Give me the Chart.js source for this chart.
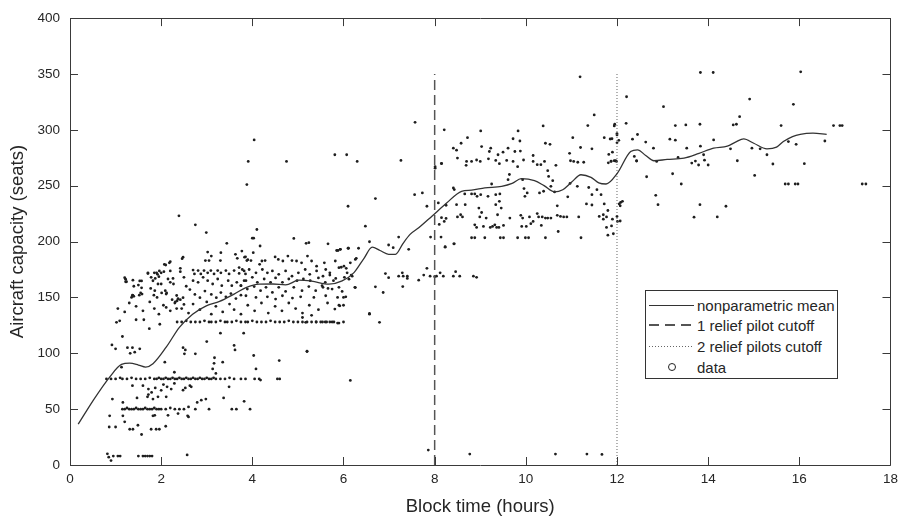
<!DOCTYPE html>
<html>
<head>
<meta charset="utf-8">
<script src="https://cdn.jsdelivr.net/npm/chart.js@4.4.1/dist/chart.umd.min.js"></script>
<style>
  html, body { margin: 0; padding: 0; background: #fff; }
  #wrap { position: relative; width: 904px; height: 519px; }
  #legend {
    position: absolute; left: 645px; top: 290px; width: 193px; height: 89px;
    box-sizing: border-box; border: 1px solid #333; background: #fff;
    font: 15px "Liberation Sans", Arial, sans-serif; color: #262626;
  }
  #legend .row { position: absolute; left: 0; height: 20px; display: flex; align-items: center; white-space: nowrap; }
  #legend .sample { width: 45px; margin: 0 3px 0 3px; }
  #legend .circle { width: 45px; margin: 0 3px 0 3px; text-align: center; line-height: 0; }
  #legend .circle span { display: inline-block; width: 6px; height: 6px; border: 1px solid #222; border-radius: 50%; }
</style>
</head>
<body>
<div id="wrap">
  <canvas id="chart" width="904" height="519"></canvas>
  <div id="legend">
    <div class="row" style="top:4px"><div class="sample" style="height:1px;background:#333"></div>nonparametric mean</div>
    <div class="row" style="top:24px"><div class="sample" style="height:1.5px;background:repeating-linear-gradient(to right,#555 0 10px,transparent 10px 16px)"></div>1 relief pilot cutoff</div>
    <div class="row" style="top:45px"><div class="sample" style="height:1px;background:repeating-linear-gradient(to right,#666 0 1px,transparent 1px 3px)"></div>2 relief pilots cutoff</div>
    <div class="row" style="top:66px"><div class="circle"><span></span></div>data</div>
  </div>
</div>
<script>
// x ticks (hours) and y ticks (seats)
const xTicks = [0, 2, 4, 6, 8, 10, 12, 14, 16, 18];
const yTicks = [0, 50, 100, 150, 200, 250, 300, 350, 400];

// nonparametric mean curve
const meanX = [0.18, 0.51, 0.87, 1.13, 1.31, 1.5, 1.66, 1.82, 2.11, 2.4, 2.69, 2.99, 3.28, 3.6, 3.86, 4.15, 4.45, 4.73, 5.02, 5.3, 5.68, 5.97, 6.23, 6.45, 6.63, 6.8, 6.99, 7.14, 7.3, 7.46, 7.65, 7.94, 8.25, 8.59, 8.81, 9.1, 9.47, 9.7, 9.9, 10.19, 10.4, 10.63, 10.81, 11.0, 11.21, 11.43, 11.6, 11.76, 12.01, 12.3, 12.45, 12.63, 12.81, 13.1, 13.47, 13.8, 14.12, 14.42, 14.6, 14.78, 15.0, 15.29, 15.5, 15.65, 15.85, 16.02, 16.3, 16.6];
const meanY = [36.5, 57.9, 78.7, 90, 91.1, 89.5, 87.6, 90.6, 105.4, 123.2, 135, 142.5, 146.4, 153, 158.8, 161.9, 162, 161.2, 165.4, 164.5, 161.9, 164.8, 172.2, 185, 195, 192, 188.6, 188.6, 198, 206.4, 212.3, 222.7, 234, 245, 246, 248, 249.4, 252, 256.3, 254.5, 250, 244.4, 246.4, 253, 259.8, 257.5, 252.5, 251.5, 261.3, 280.6, 282.1, 277, 272.3, 273.5, 274.7, 279, 283.6, 285.4, 289, 291.9, 288, 283, 284.5, 289.5, 294, 296, 297, 296];

// relief pilot cutoffs (hours)
const cutoff1 = 8;
const cutoff2 = 12;
const cutoffTop = 350;

// observed flights [block time, seats]
const rowLow = [[0.82,10],[0.85,7],[0.9,4],[0.95,8],[1.05,8],[1.1,8],[1.5,8],[1.6,8],[1.65,8],[1.7,8],[1.75,8],[1.8,8],[2.57,9]];
const row50 = [[1.15,50],[1.2,50],[1.25,51],[1.3,50],[1.35,50],[1.4,50],[1.45,51],[1.5,50],[1.55,50],[1.6,50],[1.65,51],[1.7,50],[1.75,50],[1.8,50],[1.85,51],[1.9,50],[1.95,50],[2.0,50],[2.1,50],[2.2,51],[2.3,50],[2.4,50],[2.5,50],[2.6,52],[2.75,50],[3.05,50],[3.55,50],[3.65,50],[3.95,50]];
const row77 = [[0.8,77],[0.9,77],[1.0,77],[1.1,78],[1.15,77],[1.25,77],[1.35,78],[1.45,77],[1.55,77],[1.65,77],[1.75,78],[1.85,77],[1.9,77],[1.95,78],[2.0,77],[2.05,77],[2.1,78],[2.15,77],[2.2,77],[2.25,78],[2.3,77],[2.35,77],[2.4,78],[2.45,77],[2.5,77],[2.55,78],[2.6,77],[2.65,77],[2.7,78],[2.75,77],[2.8,77],[2.85,78],[2.9,77],[2.95,77],[3.0,78],[3.05,77],[3.1,77],[3.15,78],[3.2,77],[3.3,77],[3.4,77],[3.5,78],[3.6,77],[3.75,77],[3.85,77],[4.05,77],[4.15,77],[4.55,77],[4.6,77]];
const row128 = [[2.35,128],[2.45,128],[2.55,129],[2.65,128],[2.75,128],[2.85,128],[2.95,129],[3.05,128],[3.1,128],[3.2,128],[3.3,129],[3.4,128],[3.45,128],[3.55,128],[3.65,129],[3.75,128],[3.85,128],[3.9,128],[4.0,129],[4.1,128],[4.2,128],[4.3,128],[4.4,129],[4.5,128],[4.6,128],[4.7,128],[4.8,129],[4.9,128],[5.0,128],[5.1,128],[5.2,128],[5.3,128],[5.4,128],[5.5,128],[5.6,128],[5.75,128],[5.9,127],[6.0,128]];
const shortScatter = [[0.87,44],[1.16,44],[0.86,34],[1.0,34],[1.31,32],[1.38,32],[1.49,35.6],[1.57,27.3],[1.78,32],[1.89,32],[1.96,32],[2.1,34.7],[1.2,38.6],[1.86,44.5],[2.15,44.5],[2.37,46],[2.6,43],[1.82,44],[2.58,44],[1.16,56],[1.47,60],[1.7,61],[1.93,61],[1.72,63],[2.0,66.8],[2.11,61],[1.82,59],[2.13,70],[2.29,73],[2.48,67],[2.63,71],[2.79,56],[2.88,58],[2.98,59],[3.37,60],[3.49,70],[3.82,57],[2.05,72],[0.93,59],
  [1.13,87.6],[1.37,71],[1.6,71],[1.72,68],[1.79,65],[1.87,69],[2.22,68],[2.29,83],[2.08,92],[2.53,69],[2.66,70],[2.75,99.5],[2.51,99.5],[2.53,103],[2.48,105],[3.0,110.5],[3.13,86],[3.16,91],[3.2,82],[3.17,96],[3.35,92],[3.6,107],[3.62,103],[4.03,98],[4.08,86],[4.18,76],[4.59,93.5],[5.2,101.8],[3.81,118],[3.3,118],[0.92,107.5],[1.0,104],[1.15,115],[1.26,105],[1.37,105],[1.32,100],[1.42,101],[1.53,104],[1.02,127.7],[1.09,129],[1.45,130],[1.62,130],[1.74,122],[1.97,126],[6.15,75.7]];
const cloudLeft = [[3.02,190.6],[3.1,187],[2.97,183],[3.05,183],[3.31,190],[3.3,183],[3.63,188.6],[3.77,191.5],[3.85,186.3],[3.67,185],[3.88,183],[2.46,184.7],[2.2,182],[2.07,179.5],[2.42,176],[2.2,173.7],[2.06,173],[1.96,173.7],[1.92,170.7],[1.71,171.3],[1.87,167],[1.95,168.6],[1.82,164.9],[1.57,164.8],[1.38,165.4],[1.22,166.3],[1.22,164],[1.4,160],[1.57,158.6],[1.77,158],[1.58,153],[1.38,151.7],[1.35,150],[1.52,152],[1.84,152],[1.91,150],[2.01,154],[2.12,154],[2.15,166.5],[2.26,167],[2.2,163.5],[2.27,162],[2.42,173],[2.5,168],[2.55,160],[2.7,174.5],[2.73,171],[2.81,174],[2.87,171],[2.94,174],[3.02,172],[3.09,174],[3.16,171],[3.24,174],[3.31,172],[3.42,174],[3.49,171],[3.6,174],[3.71,171.5],[3.78,175],[3.85,171],[2.7,165],[2.81,163.5],[2.92,168],[3.02,165],[3.13,162],[3.24,166.5],[3.33,160.5],[3.47,165],[3.55,160.5],[3.66,163.5],[3.75,160.5],[3.82,165],[2.63,157],[2.74,152.7],[2.85,149.8],[2.96,155.7],[3.1,152.7],[3.21,149.8],[3.31,154.3],[3.42,150.5],[3.53,153.4],[3.64,149],[3.75,152],[2.48,149.8],[2.34,151.7],[2.37,148.8],
  [1.2,167.7],[1.24,164],[1.37,152],[1.4,151],[1.53,164.8],[1.5,161],[1.55,154],[1.71,172],[1.78,168],[1.85,172],[1.9,172],[1.93,162],[1.86,156],[2.0,172],[2.18,181],[2.1,179],[2.0,162],[2.09,156],[2.11,153],[2.24,148],[2.31,146],[2.35,147],[2.42,148],[2.48,186],
  [1.05,140],[1.2,137],[1.3,145],[1.45,142],[1.6,138],[1.75,146],[1.85,140],[1.95,135],[2.05,143],[2.2,138],[2.3,145],[2.11,141],[2.34,140],[2.5,143.7],[2.45,140],[2.6,136],[2.7,144],[2.85,139],[3.0,146],[3.1,135],[3.2,142],[3.35,137],[3.5,144],[3.6,139],[3.75,135],[3.9,143],[4.05,138],[4.2,145],[4.35,136],[4.5,142],[4.65,138],[4.8,145],[4.95,140],[5.1,136],[5.25,143],[5.45,139],[5.65,145]];
const cloudRight = [[4.03,203],[5.24,199],[5.88,192],[5.93,193],[6.1,194],[4.02,190],[3.83,186],[3.9,183.7],[3.97,183],[4.21,182.6],[4.28,183],[4.16,179.6],[4.5,186.2],[4.57,184],[4.67,182.6],[4.78,187],[4.87,183],[4.97,182.6],[5.08,181],[5.21,187],[5.3,182.6],[5.41,178],[5.58,181],[5.61,175],[5.82,182.6],[5.9,176.6],[6.01,178],[6.15,181],[6.26,184],[6.08,172],[6.19,169],[3.71,176.7],[3.82,173.7],[3.93,175],[4.08,172],[4.22,175],[4.33,172],[4.44,173.7],[4.58,170.7],[4.73,173.7],[4.87,169],[5.01,172],[5.16,175],[5.26,170.7],[5.41,173.7],[5.55,169],[5.7,172],[3.86,165],[4.0,168],[4.11,163.5],[4.26,166.5],[4.4,163.5],[4.51,167.4],[4.66,163.5],[4.8,166.5],[4.98,165],[5.12,166.5],[5.27,165],[5.45,167.4],[5.6,163.5],[5.78,165],[3.75,160.5],[3.89,157.5],[4.04,159.7],[4.18,156],[4.3,159],[4.44,154.5],[4.58,159],[4.73,155.4],[4.91,159],[5.09,156],[5.24,159.7],[5.39,156],[5.53,160.5],[5.75,157.5],[5.9,159],[5.97,155.4],[3.86,151.5],[4.08,150],[4.33,150.5],[4.51,148.5],[4.66,151.5],[4.88,149.4],[5.06,150.5],[5.35,150],[5.61,151.5],[6.05,150.5],[6.25,159],
  [5.81,139.6],[5.9,143],[6.0,143],[5.87,150],[6.0,150],[6.12,166.3],[6.17,170],[6.26,158.8],[6.28,185],[6.33,194],[6.11,194],[5.93,193],[5.85,192],[5.66,198],[5.95,177],[6.06,176],[6.02,168],[5.83,167],[5.7,170],[5.66,158],[5.55,159],
  [5.1,132],[5.17,127.7],[5.3,134],[5.4,128],[5.54,128],[5.63,128],[5.7,128],[5.79,128],[5.87,127],[5.92,142.5],[6.57,135],[6.79,127.7],[6.57,135.7],[6.7,159.5],[6.87,154.4],[7.3,159.7]];
const midRange = [[6.92,171.3],[6.99,167.7],[7.21,169],[7.29,172],[7.31,169],[7.4,169],[7.4,167],[7.65,165.4],[7.76,170],[7.83,176],[7.9,169],[8.0,168.6],[8.04,169],[8.12,172],[8.19,169],[8.41,169],[8.46,173],[8.55,169],[8.85,169],[8.92,168],
  [6.57,199.8],[6.99,196.9],[7.09,194.5],[7.21,204],[7.43,193],[7.56,242],[7.73,243.5],[7.83,231.6],[7.91,204],[8.14,204],[8.01,265.7],[8.15,269.7],[8.21,300],[8.08,234.6],[8.1,215.3],[8.21,218],[8.25,220.7],[8.23,195],[8.43,198],[6.1,231.6],[6.7,238.5],[6.48,213.8],[7.26,272.6],[7.57,306.7],[5.81,277.7],[6.07,277.7],[6.3,271.7]];
const longRange = [[11.19,347.4],[11.5,313.3],[12.21,329.6],[12.2,305.8],[9.01,299],[9.83,299],[10.38,303.5],[11.36,303.8],[11.94,303.5],[8.72,293],[8.41,283.6],[8.48,281.8],[8.58,288],[9.03,285],[9.2,280.6],[9.23,283.6],[9.72,292],[9.87,290],[9.61,283.6],[9.76,280.6],[9.88,281],[9.39,277.7],[9.5,280],[10.16,277],[10.43,288],[10.53,287],[11.03,293],[11.2,284.2],[11.45,283],[11.89,292],[12.0,288.4],
  [8.5,274.7],[8.7,271.7],[8.81,271.7],[8.92,273],[9.0,271.7],[9.18,274],[9.34,272.6],[9.42,269.7],[9.58,272.6],[9.72,271.7],[9.82,267],[9.95,273],[10.16,271.7],[10.25,268.8],[10.33,268.8],[10.41,271.7],[10.66,268.2],[10.98,272.3],[11.05,271.7],[11.14,271],[11.27,271],[10.96,279],[11.87,271.7],[11.94,272.3],[11.99,271.7],[12.43,272.3],[8.15,270],[8.01,267],[8.69,268.2],
  [8.15,221.4],[8.23,195.4],[8.42,198],[8.25,232.5],[8.41,248],[8.43,246.5],[8.66,242.6],[8.81,242.6],[8.88,242.6],[8.93,240.5],[9.01,242],[9.17,240.5],[9.25,251.5],[9.34,242],[9.43,242.6],[9.61,255.4],[9.64,260],[9.93,255.4],[9.96,247.4],[10.03,243.5],[9.98,240.5],[10.3,243.5],[10.39,245],[10.48,263.4],[10.5,258.3],[10.59,254.5],[10.55,249.4],[10.63,244.4],[10.97,252],[11.13,249.4],[11.38,248.4],[11.45,242],[11.56,246.4],
  [8.48,233],[8.5,222],[8.57,224],[8.61,222],[8.67,233],[8.81,203.4],[8.88,203.4],[8.97,230],[8.99,222],[9.03,226],[8.88,215],[8.92,212.6],[9.07,213.5],[9.1,203.4],[9.13,221],[9.22,212.6],[9.27,213.5],[9.32,215],[9.36,212.6],[9.38,224],[9.41,212.6],[9.44,203.4],[9.51,203.4],[9.51,214.4],[9.42,236],[9.34,233],[9.46,230],[9.65,221],[9.82,203.4],[9.99,203.4],[10.06,203.4],[9.89,223.5],[9.93,221],[9.91,213.5],[10.01,213.5],[10.08,222],[10.11,216],[10.16,218],[10.25,225],[10.28,222],[10.36,222],[10.43,221],[10.48,221],[10.55,221],[10.34,214.4],[10.43,203.4],[10.71,209],[10.69,223.5],[10.76,222.5],[10.83,222],[10.9,222],[10.92,240],[10.69,232],[11.16,222],[11.21,203.4],[11.33,233.7],[11.45,232.7],[11.61,222.5],[11.7,220],[11.77,212.6],[11.8,205.7],
  [11.95,305],[12.0,296.6],[12.04,290.6],[11.9,280],[11.97,272.3],[11.9,220],[12.0,222.5],[12.07,232],[12.08,235],[12.01,218]];
const ultraLong = [[13.83,351.3],[14.11,351.3],[16.03,351.9],[14.91,327.5],[15.87,322.8],[13.02,320.7],[14.69,311.8],[13.28,303.8],[13.51,304.4],[13.82,305],[14.55,304.4],[14.62,305],[15.6,303.8],[16.75,303.8],[16.89,303.8],[16.94,303.8],[11.72,293],[11.85,291.8],[12.0,295.4],[12.34,291.6],[12.45,295.8],[12.63,289],[12.8,283.6],[13.16,291.6],[13.28,290.7],[13.53,283.6],[13.83,285.4],[14.12,291],[14.49,283],[14.96,283.6],[15.14,283],[15.76,289.5],[15.93,287],[16.56,290],
  [12.38,276.2],[12.43,272],[12.87,271.7],[13.34,275.3],[13.64,270.2],[13.72,272],[13.79,268.5],[13.9,277.7],[13.92,272.8],[14.0,268.5],[14.64,272.3],[15.29,277.7],[15.42,269.4],[16.11,269.7],[11.87,272],[11.82,278],[11.81,270.5],
  [12.65,258],[13.22,260.7],[13.41,251.5],[15.02,259.2],[15.69,251.5],[15.76,251.5],[15.91,251.5],[15.97,251.5],[17.38,251.5],[17.46,251.5],[12.85,241.4],[12.9,233],[13.82,233],[14.39,231.6],[13.69,221.8],[14.2,222],
  [11.65,242],[11.72,233.7],[11.8,227.8],[11.7,224],[11.77,222],[11.88,214],[11.92,207],[12.05,233.7],[12.12,236],[12.07,218.4]];
const outliers = [[2.39,223],[2.75,215],[2.99,208],[3.44,198.4],[3.88,251],[3.91,271.7],[4.04,291],[4.75,271.7],[4.1,210.8],[4.0,203],[4.17,196],[4.91,202.8],[5.18,198.4],[5.2,101.5],
  [7.86,13.4],[8.77,9.8],[10.65,9.8],[11.34,9.8],[11.67,9.5]];

const toXY = arr => arr.map(p => ({ x: p[0], y: p[1] }));
const allPoints = [].concat(rowLow, row50, row77, row128, shortScatter, cloudLeft, cloudRight, midRange, longRange, ultraLong, outliers);

const FONT = '"Liberation Sans", Arial, sans-serif';
const INK = '#262626';

// MATLAB-like box with inward ticks
const boxTicks = {
  id: 'boxTicks',
  afterDraw(chart) {
    const { ctx, chartArea: a, scales } = chart;
    const len = 8;
    ctx.save();
    ctx.strokeStyle = '#3a3a3a';
    ctx.lineWidth = 1;
    ctx.beginPath();
    ctx.rect(Math.round(a.left) + 0.5, Math.round(a.top) + 0.5, Math.round(a.right - a.left), Math.round(a.bottom - a.top));
    xTicks.forEach(v => {
      const px = Math.round(scales.x.getPixelForValue(v)) + 0.5;
      ctx.moveTo(px, a.bottom); ctx.lineTo(px, a.bottom - len);
      ctx.moveTo(px, a.top); ctx.lineTo(px, a.top + len);
    });
    yTicks.forEach(v => {
      const py = Math.round(scales.y.getPixelForValue(v)) + 0.5;
      ctx.moveTo(a.left, py); ctx.lineTo(a.left + len, py);
      ctx.moveTo(a.right, py); ctx.lineTo(a.right - len, py);
    });
    ctx.stroke();
    ctx.restore();
  }
};

new Chart(document.getElementById('chart').getContext('2d'), {
  type: 'scatter',
  data: {
    datasets: [
      {
        label: 'nonparametric mean',
        type: 'line',
        data: meanX.map((x, i) => ({ x: x, y: meanY[i] })),
        borderColor: '#333',
        borderWidth: 1.3,
        pointRadius: 0,
        fill: false,
        cubicInterpolationMode: 'monotone',
        order: 0
      },
      {
        label: '1 relief pilot cutoff',
        type: 'line',
        data: [{ x: cutoff1, y: 0 }, { x: cutoff1, y: cutoffTop }],
        borderColor: '#555',
        borderWidth: 1.5,
        borderDash: [10, 5],
        pointRadius: 0,
        fill: false,
        order: 1
      },
      {
        label: '2 relief pilots cutoff',
        type: 'line',
        data: [{ x: cutoff2, y: 0 }, { x: cutoff2, y: cutoffTop }],
        borderColor: '#666',
        borderWidth: 1,
        borderDash: [1, 2],
        pointRadius: 0,
        fill: false,
        order: 2
      },
      {
        label: 'data',
        data: toXY(allPoints),
        backgroundColor: '#1e1e1e',
        borderWidth: 0,
        pointRadius: 1.4,
        order: 3
      }
    ]
  },
  options: {
    responsive: false,
    animation: false,
    layout: { padding: { top: 16, right: 10, left: 0, bottom: 0 } },
    plugins: { legend: { display: false }, tooltip: { enabled: false } },
    scales: {
      x: {
        type: 'linear', min: 0, max: 18,
        afterBuildTicks: s => { s.ticks = xTicks.map(v => ({ value: v })); },
        afterFit: s => { s.height = 54; },
        grid: { display: false, drawTicks: false },
        border: { display: false },
        ticks: { color: INK, font: { family: FONT, size: 13.5 }, padding: 6, maxRotation: 0 },
        title: { display: true, text: 'Block time (hours)', color: INK, font: { family: FONT, size: 18.5 }, padding: { top: 0, bottom: 1 } }
      },
      y: {
        type: 'linear', min: 0, max: 400,
        afterBuildTicks: s => { s.ticks = yTicks.map(v => ({ value: v })); },
        afterFit: s => { s.width = 70; },
        grid: { display: false, drawTicks: false },
        border: { display: false },
        ticks: { color: INK, font: { family: FONT, size: 13.5 }, padding: 10 },
        title: { display: true, text: 'Aircraft capacity (seats)', color: INK, font: { family: FONT, size: 18.5 }, padding: { top: 7, bottom: 0 } }
      }
    }
  },
  plugins: [boxTicks]
});
</script>
</body>
</html>
